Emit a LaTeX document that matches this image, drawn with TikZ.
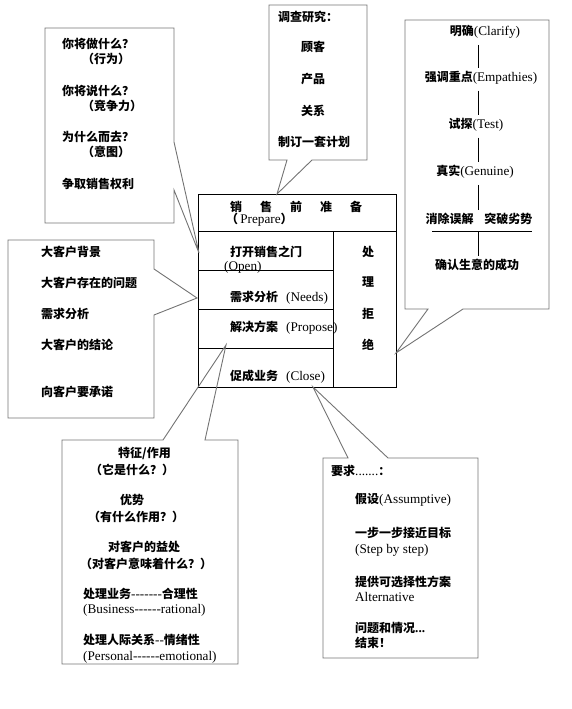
\documentclass[tikz,border=0pt]{standalone}
\usepackage{fontspec}
\setmainfont{Liberation Serif}[Scale=1.1]
\newfontfamily\cjk{Noto Sans CJK SC}
\newcommand\zh[1]{{\cjk\bfseries #1}}
\newcommand\dashes[1]{\foreach \k in {1,...,#1}{\mbox{-}}}
\tikzset{bubble/.style = {draw=black!55, line width=0.9pt, line join=miter}}
\tikzset{txt/.style = {anchor=west, inner sep=0, font=\fontsize{12}{14}\selectfont}}
\tikzset{ctxt/.style = {inner sep=0, font=\fontsize{12}{14}\selectfont}}
\tikzset{cell/.style = {draw, line width=0.7pt}}

\begin{document}
\begin{tikzpicture}[x=1pt, y=-1pt]
    \useasboundingbox (0, 0) rectangle (572, 709);

    % main table
    \draw [cell] (198, 194) rectangle (396, 387);
    \draw [cell] (198, 231) -- (396, 231);
    \draw [cell] (333, 231) -- (333, 387);
    \foreach \y in {270, 309, 348} {
      \draw [cell] (198, \y) -- (333, \y);
    }
    \foreach \c [count=\i] in {销, 售, 前, 准, 备} {
      \pgfmathsetmacro\a{200 + 30*\i}
      \node [txt] (prep\i) at (\a, 207) {\zh{\c}};
    }
    \node [txt] (prep) at (226, 220) {\zh{（}\,Prepare\zh{）}};
    \node [txt] (open) at (230, 252) {\zh{打开销售之门}};
    \node [txt] (openen) at (224, 267) {(Open)};
    \node [txt] (needs) at (230, 298) {\zh{需求分析}\hspace{0.6em}(Needs)};
    \node [txt] (prop) at (230, 328) {\zh{解决方案}\hspace{0.6em}(Propose)};
    \node [txt] (close) at (230, 377) {\zh{促成业务}\hspace{0.6em}(Close)};
    \foreach \c/\y [count=\i] in {处/252, 理/282, 拒/314, 绝/345} {
      \node [ctxt] (obj\i) at (368, \y) {\zh{\c}};
    }

    % callout: what to do
    \coordinate (tipA) at (199, 253);
    \draw [bubble] (45, 28) -- (174, 28) -- (174, 142) -- (tipA) -- (174, 190)
      -- (174, 223) -- (45, 223) -- cycle;
    \node [txt] (doA) at (62, 44) {\zh{你将做什么？}};
    \node [txt] (doB) at (82, 59) {\zh{（行为）}};
    \node [txt] (sayA) at (62, 91) {\zh{你将说什么？}};
    \node [txt] (sayB) at (82, 106) {\zh{（竞争力）}};
    \node [txt] (whyA) at (62, 137) {\zh{为什么而去？}};
    \node [txt] (whyB) at (82, 152) {\zh{（意图）}};
    \node [txt] (right) at (62, 184) {\zh{争取销售权利}};

    % callout: research
    \coordinate (tipB) at (277, 194);
    \draw [bubble] (269, 5) -- (367, 5) -- (367, 160) -- (312, 160) -- (tipB)
      -- (287, 160) -- (269, 160) -- cycle;
    \node [txt] (study) at (278, 17) {\zh{调查研究：}};
    \node [txt] (cust) at (301, 47) {\zh{顾客}};
    \node [txt] (prod) at (301, 79) {\zh{产品}};
    \node [txt] (rel) at (301, 111) {\zh{关系}};
    \node [txt] (plan) at (278, 142) {\zh{制订一套计划}};

    % callout: objections
    \coordinate (tipC) at (396, 353);
    \draw [bubble] (405, 20) -- (549, 20) -- (549, 309) -- (463, 309) -- (tipC)
      -- (428, 309) -- (405, 309) -- cycle;
    \coordinate (bar) at (478, 231);
    \node [ctxt] (clar) at (485, 32) {\zh{明确}(Clarify)};
    \node [ctxt] (emph) at (481, 78) {\zh{强调重点}(Empathies)};
    \node [ctxt] (test) at (476, 125) {\zh{试探}(Test)};
    \node [ctxt] (genu) at (475, 172) {\zh{真实}(Genuine)};
    \node [ctxt] (elim) at (479, 219) {\zh{消除误解}\hspace{0.8em}\zh{突破劣势}};
    \node [ctxt] (conf) at (477, 265) {\zh{确认生意的成功}};
    \draw [shorten <=6pt, shorten >=3pt] (clar.south -| bar) -- (emph.north -| bar);
    \draw [shorten <=6pt, shorten >=3pt] (emph.south -| bar) -- (test.north -| bar);
    \draw [shorten <=6pt, shorten >=3pt] (test.south -| bar) -- (genu.north -| bar);
    \draw [shorten <=6pt, shorten >=3pt] (genu.south -| bar) -- (elim.north -| bar);
    \draw (432, 231) -- (532, 231);
    \draw [shorten >=3pt] (bar) -- (conf.north -| bar);

    % callout: needs analysis
    \coordinate (tipD) at (197, 298);
    \draw [bubble] (8, 240) -- (154, 240) -- (154, 269) -- (tipD) -- (154, 315)
      -- (154, 418) -- (8, 418) -- cycle;
    \node [txt] (bg) at (41, 252) {\zh{大客户背景}};
    \node [txt] (prob) at (41, 283) {\zh{大客户存在的问题}};
    \node [txt] (anal) at (41, 314) {\zh{需求分析}};
    \node [txt] (concl) at (41, 345) {\zh{大客户的结论}};
    \node [txt] (promise) at (41, 392) {\zh{向客户要承诺}};

    % callout: proposal
    \coordinate (tipE) at (226, 345);
    \draw [bubble] (62, 440) -- (163, 440) -- (tipE) -- (205, 440) -- (238, 440)
      -- (238, 664) -- (62, 664) -- cycle;
    \node [txt] (featA) at (118, 453) {\zh{特征/作用}};
    \node [txt] (featB) at (90, 470) {\zh{（它是什么？）}};
    \node [txt] (advA) at (120, 500) {\zh{优势}};
    \node [txt] (advB) at (88, 517) {\zh{（有什么作用？）}};
    \node [txt] (benA) at (108, 547) {\zh{对客户的益处}};
    \node [txt] (benB) at (80, 564) {\zh{（对客户意味着什么？）}};
    \node [txt] (busA) at (83, 594) {\zh{处理业务}\dashes{7}\zh{合理性}};
    \node [txt] (busB) at (83, 610) {(Business\dashes{6}rational)};
    \node [txt] (perA) at (83, 640) {\zh{处理人际关系}\dashes{2}\zh{情绪性}};
    \node [txt] (perB) at (83, 657) {(Personal\dashes{6}emotional)};

    % callout: close
    \coordinate (tipF) at (313, 387);
    \draw [bubble] (323, 458) -- (348, 458) -- (tipF) -- (388, 458) -- (478, 458)
      -- (478, 658) -- (323, 658) -- cycle;
    \node [txt] (ask) at (331, 471) {\zh{要求}.......\zh{：}};
    \node [txt] (assA) at (355, 500) {\zh{假设}(Assumptive)};
    \node [txt] (stepA) at (355, 533) {\zh{一步一步接近目标}};
    \node [txt] (stepB) at (355, 550) {(Step by step)};
    \node [txt] (altA) at (355, 582) {\zh{提供可选择性方案}};
    \node [txt] (altB) at (355, 597) {Alternative};
    \node [txt] (qA) at (355, 628) {\zh{问题和情况}\textbf{...}};
    \node [txt] (qB) at (355, 643) {\zh{结束！}};
  \end{tikzpicture}
\end{document}
